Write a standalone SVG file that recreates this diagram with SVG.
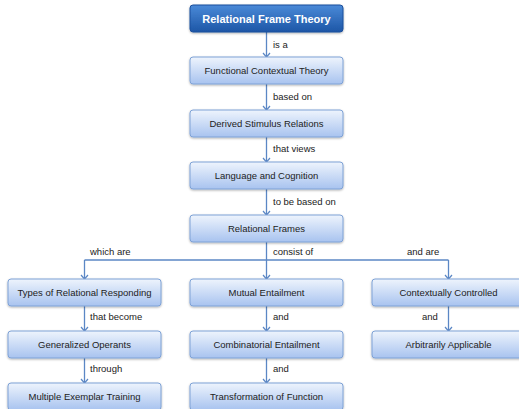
<svg xmlns="http://www.w3.org/2000/svg" width="519" height="409" viewBox="0 0 519 409">
<defs>
<linearGradient id="gl" x1="0" y1="0" x2="0" y2="1">
<stop offset="0" stop-color="#eef4fd"/>
<stop offset="1" stop-color="#a8c3ef"/>
</linearGradient>
<linearGradient id="gd" x1="0" y1="0" x2="0" y2="1">
<stop offset="0" stop-color="#4a8ad8"/>
<stop offset="1" stop-color="#1d56a6"/>
</linearGradient>
<filter id="sh" x="-10%" y="-20%" width="120%" height="160%">
<feDropShadow dx="0" dy="1" stdDeviation="0.8" flood-color="#000" flood-opacity="0.3"/>
</filter>
<marker id="arr" markerWidth="10" markerHeight="10" refX="5" refY="5" orient="auto" markerUnits="userSpaceOnUse">
<path d="M1,1.5 L5,5 L1,8.5" fill="none" stroke="#5b87c5" stroke-width="1.2"/>
</marker>
</defs>
<style>
.n rect{fill:url(#gl);stroke:#7ea2d6;stroke-width:1;filter:url(#sh)}
.n text{font-family:"Liberation Sans",Arial,sans-serif;font-size:9.5px;fill:#222;text-anchor:middle}
.top rect{fill:url(#gd);stroke:#1b4f9c;stroke-width:1;filter:url(#sh)}
.top text{font-family:"Liberation Sans",Arial,sans-serif;font-size:11px;font-weight:bold;fill:#fff;text-anchor:middle}
.c path{fill:none;stroke:#5b87c5;stroke-width:1.3;marker-end:url(#arr)}
.c line{stroke:#5b87c5;stroke-width:1.3}
.c text{font-family:"Liberation Sans",Arial,sans-serif;font-size:9.5px;fill:#222}
</style>
<g id="connectors" class="c">
<path d="M266.5,32 V57"/>
<path d="M266.5,84 V110"/>
<path d="M266.5,137 V162"/>
<path d="M266.5,189 V215"/>
<path d="M266.5,242 V279"/>
<line x1="84.5" y1="260" x2="448.5" y2="260"/>
<path d="M84.5,260 V279"/>
<path d="M448.5,260 V279"/>
<path d="M84.5,306 V331"/>
<path d="M84.5,358 V383"/>
<path d="M266.5,306 V331"/>
<path d="M266.5,358 V383"/>
<path d="M448.5,306 V331"/>
<text x="273" y="48">is a</text>
<text x="273" y="100">based on</text>
<text x="273" y="152">that views</text>
<text x="273" y="205">to be based on</text>
<text x="90" y="255">which are</text>
<text x="273" y="255">consist of</text>
<text x="407" y="255">and are</text>
<text x="90" y="320">that become</text>
<text x="90" y="372">through</text>
<text x="273" y="320">and</text>
<text x="273" y="372">and</text>
<text x="422" y="320">and</text>
</g>
<g id="n-rft" class="top"><rect x="190" y="5" width="153" height="27" rx="3"/><text x="266.5" y="22.5">Relational Frame Theory</text></g>
<g id="n-fct" class="n"><rect x="190" y="57" width="153" height="27" rx="3"/><text x="266.5" y="74">Functional Contextual Theory</text></g>
<g id="n-dsr" class="n"><rect x="190" y="110" width="153" height="27" rx="3"/><text x="266.5" y="127">Derived Stimulus Relations</text></g>
<g id="n-lc" class="n"><rect x="190" y="162" width="153" height="27" rx="3"/><text x="266.5" y="179">Language and Cognition</text></g>
<g id="n-rf" class="n"><rect x="190" y="215" width="153" height="27" rx="3"/><text x="266.5" y="232">Relational Frames</text></g>
<g id="n-trr" class="n"><rect x="8" y="279" width="153" height="27" rx="3"/><text x="84.5" y="296">Types of Relational Responding</text></g>
<g id="n-me" class="n"><rect x="190" y="279" width="153" height="27" rx="3"/><text x="266.5" y="296">Mutual Entailment</text></g>
<g id="n-cc" class="n"><rect x="372" y="279" width="153" height="27" rx="3"/><text x="448.5" y="296">Contextually Controlled</text></g>
<g id="n-go" class="n"><rect x="8" y="331" width="153" height="27" rx="3"/><text x="84.5" y="348">Generalized Operants</text></g>
<g id="n-ce" class="n"><rect x="190" y="331" width="153" height="27" rx="3"/><text x="266.5" y="348">Combinatorial Entailment</text></g>
<g id="n-aa" class="n"><rect x="372" y="331" width="153" height="27" rx="3"/><text x="448.5" y="348">Arbitrarily Applicable</text></g>
<g id="n-met" class="n"><rect x="8" y="383" width="153" height="27" rx="3"/><text x="84.5" y="400">Multiple Exemplar Training</text></g>
<g id="n-tf" class="n"><rect x="190" y="383" width="153" height="27" rx="3"/><text x="266.5" y="400">Transformation of Function</text></g>
</svg>
